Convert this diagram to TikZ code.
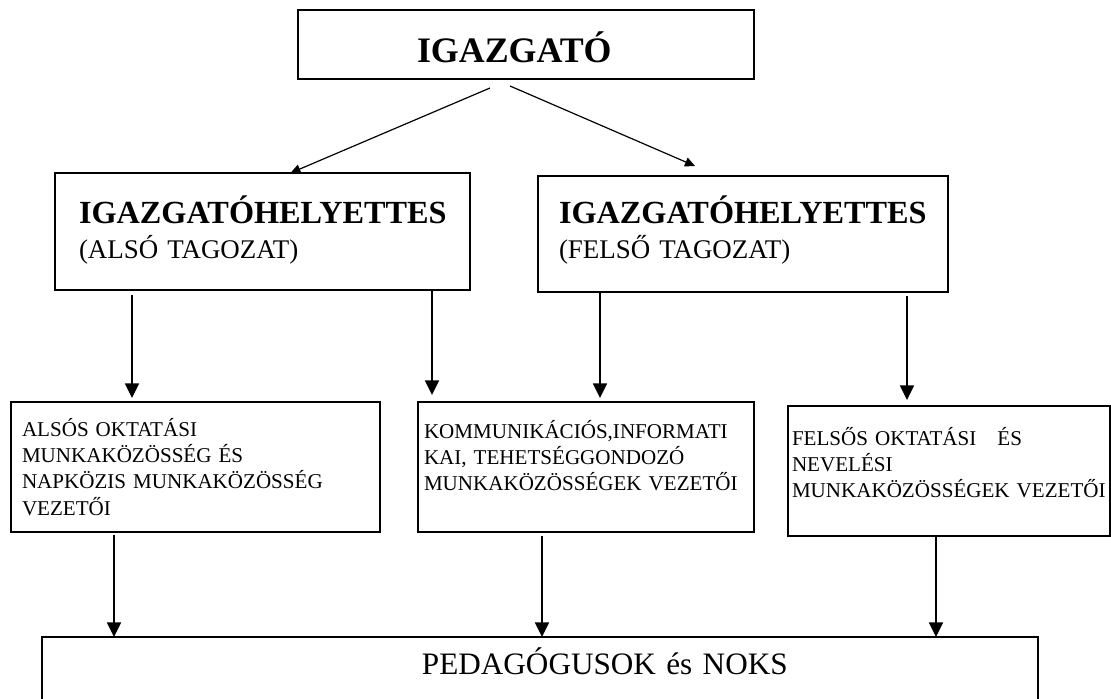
\documentclass[tikz,border=0pt]{standalone}
\usepackage{fontspec}
\setmainfont{Liberation Serif}
\usetikzlibrary{arrows.meta,calc}

\tikzset{
  box/.style={draw, rectangle, line width=1.2pt, inner ysep=0pt, outer sep=0pt,
              align=left, anchor=north west},
  hely/.style={box, font=\fontsize{20.2}{26.6}\selectfont},
  vezeto/.style={box, minimum height=97.5pt, text height=15pt,
                 font=\fontsize{15.8}{19.8}\selectfont},
  arr/.style={line width=1.2pt, -{Triangle[width=10.5pt,length=11pt]}},
  diag/.style={line width=0.9pt, -{Triangle[width=7pt,length=7.5pt]}},
}

\begin{document}
\begin{tikzpicture}[x=0.75pt, y=-0.75pt]
    \useasboundingbox (0,0) rectangle (1111,699);
    \clip (0,0) rectangle (1111,699);

    \node[box, minimum width=342pt, minimum height=51.75pt,
          inner xsep=89.25pt, text width=163.5pt,
          text height=27.75pt, text depth=0pt,
          font=\bfseries\fontsize{26.9}{30}\selectfont,
          ] (igazgato) at (298,10) {IGAZGATÓ};

    \node[hely, minimum width=311.25pt, minimum height=87.75pt,
          inner xsep=18pt, text width=275.25pt,
          text height=22.5pt, text depth=35.25pt,
          ] (alsohely) at (55,173)
        {{\bfseries\fontsize{24.2}{26.6}\selectfont IGAZGATÓHELYETTES}\\(ALSÓ TAGOZAT)};

    \node[hely, minimum width=307.5pt, minimum height=87pt,
          inner xsep=15.75pt, text width=276pt,
          text height=22.5pt, text depth=39pt,
          ] (felsohely) at (538,176)
        {{\bfseries\fontsize{24.2}{26.6}\selectfont IGAZGATÓHELYETTES}\\(FELSŐ TAGOZAT)};

    \node[vezeto, minimum width=276.75pt, inner xsep=8.25pt,
          text width=260.25pt, text depth=61.5pt]
        (alsos) at (11,402)
        {ALSÓS OKTATÁSI\\MUNKAKÖZÖSSÉG ÉS\\NAPKÖZIS MUNKAKÖZÖSSÉG\\VEZETŐI};
    \node[vezeto, minimum width=252pt, inner xsep=4.5pt,
          text width=243pt, text depth=58.5pt]
        (komm) at (418,402)
        {KOMMUNIKÁCIÓS,INFORMATI\\KAI, TEHETSÉGGONDOZÓ\\MUNKAKÖZÖSSÉGEK VEZETŐI};
    \node[vezeto, minimum width=241.5pt, inner xsep=3pt,
          text width=235.5pt, text depth=54pt]
        (felsos) at (788,406)
        {FELSŐS OKTATÁSI\ \ \ ÉS\\NEVELÉSI\\MUNKAKÖZÖSSÉGEK VEZETŐI};

    \node[box, minimum width=747pt, minimum height=62.25pt,
          inner xsep=0pt, text width=747pt,
          text height=20.25pt, text depth=26.25pt,
          font=\fontsize{23.4}{27}\selectfont,
          ] (ped) at (42,637) {\hspace*{285pt}PEDAGÓGUSOK és NOKS};

    \draw[diag] ($(igazgato.south)+(-36,9)$) -- ($(alsohely.north)+(28,0)$);
    \draw[diag] ($(igazgato.south)+(-16,7)$) -- ($(felsohely.north)+(-48,-10)$);

    \draw[arr] ($(alsohely.south west)+(77,5)$) -- ($(alsos.north west)+(121,-4)$);
    \draw[arr] ($(alsohely.south east)+(-38,0)$) -- ($(komm.north west)+(14,-7)$);
    \draw[arr] ($(felsohely.south west)+(62,0)$) -- ($(komm.north east)+(-154,-4)$);
    \draw[arr] ($(felsohely.south east)+(-41,4)$) -- ($(felsos.north west)+(119,-6)$);

    \draw[arr] ($(alsos.south west)+(103,3)$) -- ($(ped.north west)+(72,0)$);
    \draw[arr] ($(komm.south west)+(124,4)$) -- ($(ped.north west)+(500,0)$);
    \draw[arr] ($(felsos.south west)+(148,0)$) -- ($(ped.north west)+(894,0)$);
\end{tikzpicture}
\end{document}
